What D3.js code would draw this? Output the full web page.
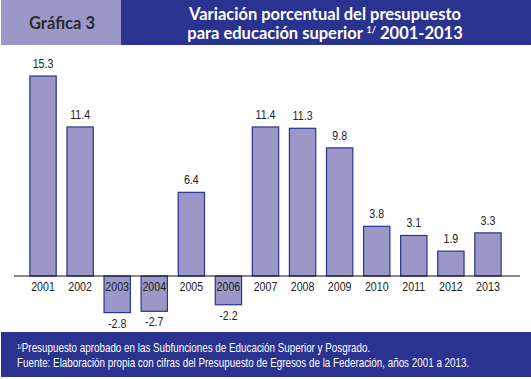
<!DOCTYPE html>
<html lang="es">
<head>
<meta charset="utf-8">
<script src="https://cdn.jsdelivr.net/npm/d3@7"></script>
<style>
  body { margin: 0; background: #fff; }
  svg { display: block; }
  .lbl { font-family: "Liberation Sans", Arial, sans-serif; fill: #222; }
</style>
</head>
<body>
<div id="chart"></div>
<script>
  const years = ['2001','2002','2003','2004','2005','2006','2007','2008','2009','2010','2011','2012','2013']
  const values = [15.3, 11.4, -2.8, -2.7, 6.4, -2.2, 11.4, 11.3, 9.8, 3.8, 3.1, 1.9, 3.3]
  const titleLines = ['Variación porcentual del presupuesto', 'para educación superior ', ' 2001-2013']
  const notes = ['Presupuesto aprobado en las Subfunciones de Educación Superior y Posgrado.',
                 'Fuente: Elaboración propia con cifras del Presupuesto de Egresos de la Federación, años 2001 a 2013.']

  let w = 531
  let h = 379
  let lavender = '#9b98c8'
  let navy = '#2b3390'
  let narrow = 0.82   // squeeze Liberation Sans to look like Arial Narrow

  let svg = d3.select('#chart')
      .append('svg')
      .attr('width', w)
      .attr('height', h)

  // header boxes
  svg.append('rect').attr('x', 1).attr('y', 0).attr('width', 120).attr('height', 45).attr('fill', lavender)
  svg.append('rect').attr('x', 121).attr('y', 0).attr('width', 410).attr('height', 45).attr('fill', navy)

  svg.append('text')
      .attr('x', 62).attr('y', 29)
      .attr('text-anchor', 'middle')
      .attr('font-family', 'Lato, "DejaVu Sans", sans-serif')
      .attr('font-weight', 'bold')
      .attr('font-size', 16.5)
      .attr('fill', '#2a2a2a')
      .text('Gráfica 3')

  let title = svg.append('g')
      .attr('font-family', 'Lato, "DejaVu Sans", sans-serif')
      .attr('font-weight', 'bold')
      .attr('font-size', 16.5)
      .attr('fill', '#fff')
      .attr('text-anchor', 'middle')
  title.append('text').attr('x', 325).attr('y', 20).text(titleLines[0])
  let t2 = title.append('text').attr('x', 325).attr('y', 39)
  t2.append('tspan').text(titleLines[1])
  t2.append('tspan').attr('font-size', 9).attr('dy', -6).text('1/')
  t2.append('tspan').attr('dy', 6).text(titleLines[2])

  // scales
  let xScale = d3.scaleBand()
      .domain(years)
      .range([24.5, 506.5])
      .paddingInner(0.29)
      .paddingOuter(0.145)
  let yScale = d3.scaleLinear()
      .domain([0, 15.3])
      .range([276, 76])

  let bars = svg.append('g')
  bars.selectAll('rect')
      .data(values)
      .enter()
      .append('rect')
      .attr('x', (d, i) => xScale(years[i]))
      .attr('y', d => yScale(Math.max(0, d)))
      .attr('width', xScale.bandwidth())
      .attr('height', d => Math.abs(yScale(d) - yScale(0)))
      .attr('fill', lavender)
      .attr('stroke', navy)
      .attr('stroke-width', 1.2)

  // baseline axis
  let xAxis = d3.axisBottom(xScale).tickSize(0).tickPadding(6)
  let axisG = svg.append('g')
      .attr('transform', 'translate(0,' + yScale(0) + ')')
      .call(xAxis)
  axisG.select('.domain').remove()
  axisG.selectAll('text')
      .attr('class', 'lbl')
      .attr('font-size', 13)
      .attr('fill', '#222')
      .attr('transform', 'scale(' + narrow + ',1)')
  svg.append('line')
      .attr('x1', 14).attr('x2', 520)
      .attr('y1', yScale(0)).attr('y2', yScale(0))
      .attr('stroke', '#111')
      .attr('stroke-width', 1.2)

  // value labels
  svg.append('g').selectAll('text')
      .data(values)
      .enter()
      .append('text')
      .attr('class', 'lbl')
      .attr('font-size', 13)
      .attr('text-anchor', 'middle')
      .attr('transform', (d, i) => {
          let x = xScale(years[i]) + xScale.bandwidth() / 2
          let y = d >= 0 ? yScale(d) - 8 : yScale(d) + 15
          return 'translate(' + x + ',' + y + ') scale(' + narrow + ',1)'
      })
      .text(d => d.toFixed(1))

  // footer
  svg.append('rect').attr('x', 1).attr('y', 332).attr('width', 530).attr('height', 45).attr('fill', navy)
  let foot = svg.append('g')
      .attr('font-family', '"Liberation Sans", Arial, sans-serif')
      .attr('font-size', 12)
      .attr('fill', '#fff')
  let f1 = foot.append('text')
      .attr('transform', 'translate(17,352) scale(0.82,1)')
  f1.append('tspan').attr('font-size', 7).attr('dy', -3).text('1/')
  f1.append('tspan').attr('dy', 3).text(notes[0])
  foot.append('text')
      .attr('transform', 'translate(17,367) scale(0.82,1)')
      .text(notes[1])
</script>
</body>
</html>
